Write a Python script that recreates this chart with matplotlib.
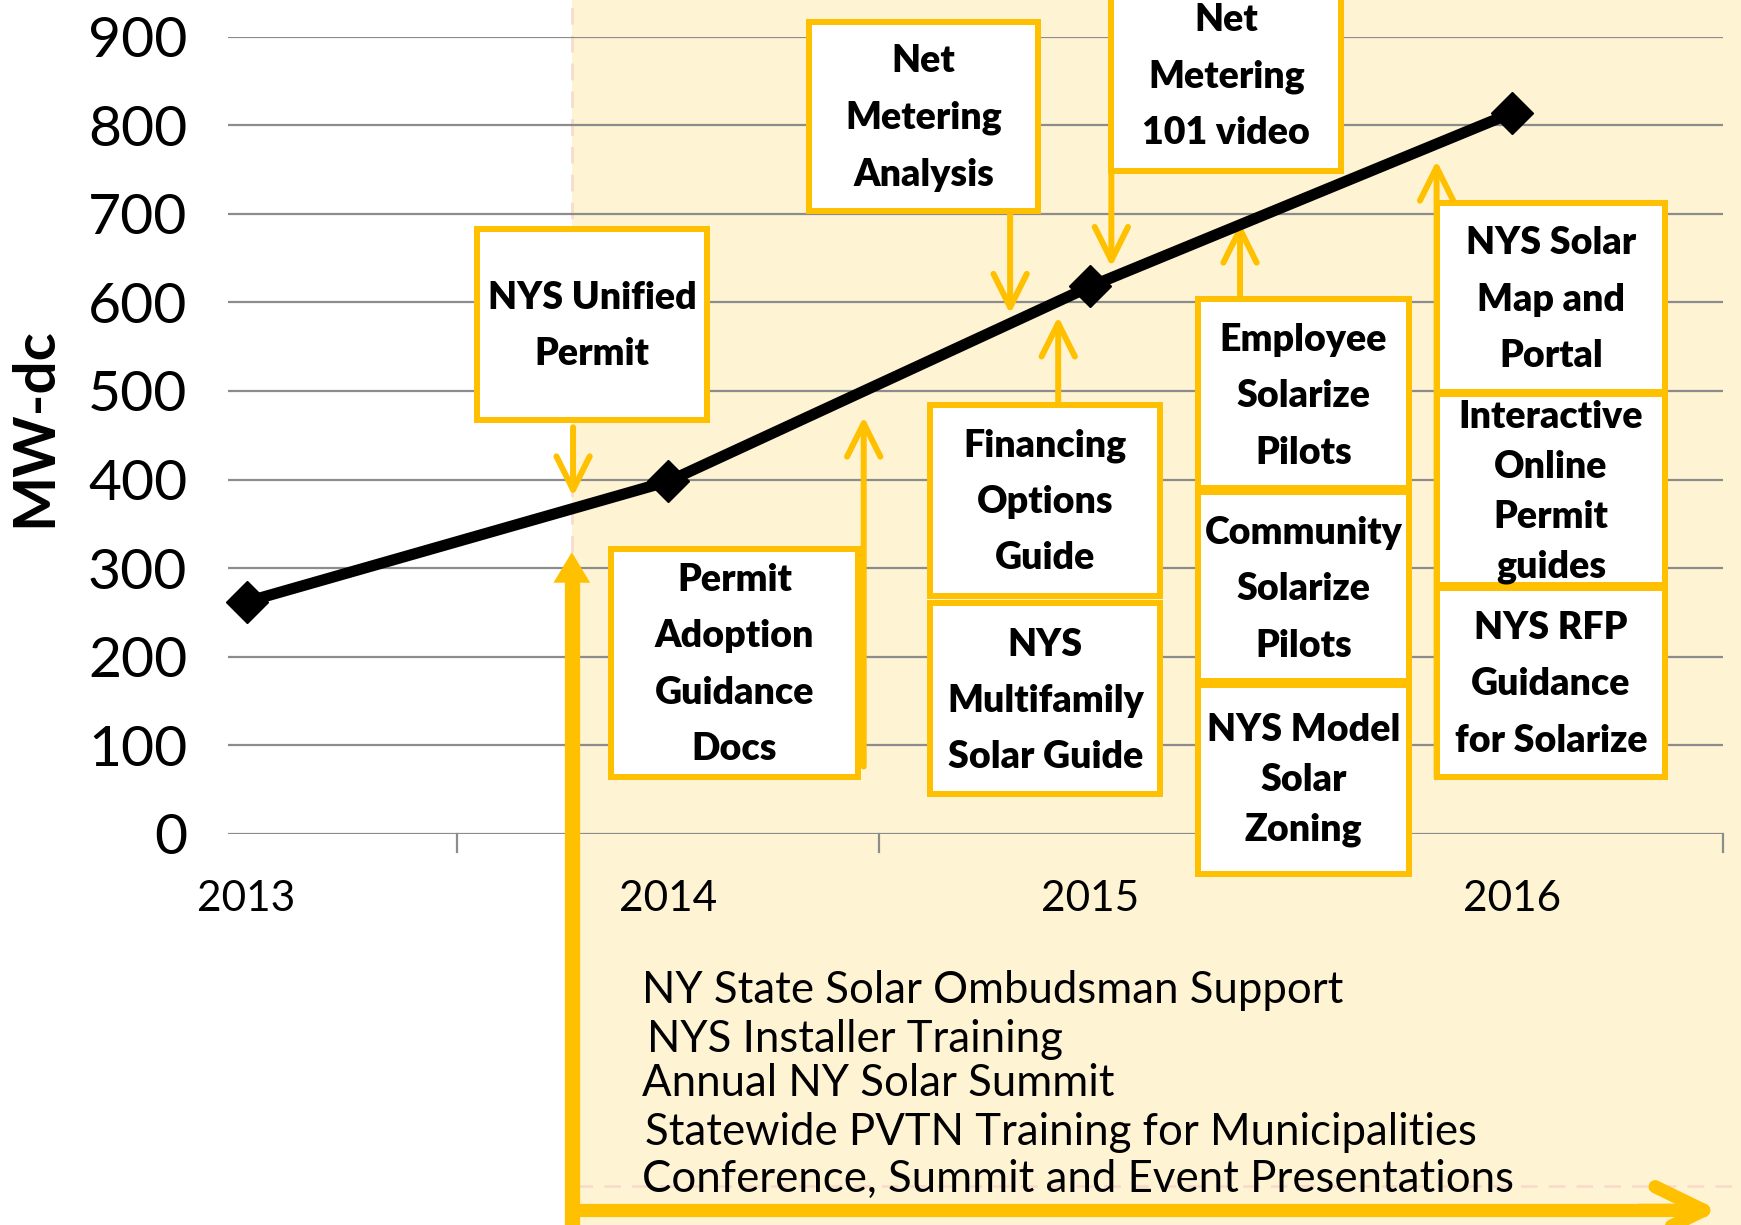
import matplotlib
matplotlib.use("Agg")
import matplotlib.pyplot as plt
from matplotlib.patches import Rectangle

# data
years = ['2013', '2014', '2015', '2016']
mw_dc = [262, 398, 618, 814]
y_ticks = [0, 100, 200, 300, 400, 500, 600, 700, 800, 900]

# milestone boxes: (label, x0, x1, y0, y1) in category / MW units
boxes = [
    ("NYS Unified\nPermit", 0.547, 1.092, 467, 683),
    ("Permit\nAdoption\nGuidance\nDocs", 0.863, 1.450, 64, 322),
    ("Net\nMetering\nAnalysis", 1.334, 1.876, 703, 917),
    ("Financing\nOptions\nGuide", 1.621, 2.166, 268, 484),
    ("NYS\nMultifamily\nSolar Guide", 1.621, 2.166, 45, 261),
    ("Net\nMetering\n101 video", 2.050, 2.595, 748, 985),
    ("Employee\nSolarize\nPilots", 2.255, 2.755, 390, 604),
    ("Community\nSolarize\nPilots", 2.255, 2.755, 173, 386),
    ("NYS Model\nSolar\nZoning", 2.255, 2.755, -45, 168),
    ("NYS Solar\nMap and\nPortal", 2.821, 3.363, 499, 712),
    ("Interactive\nOnline\nPermit\nguides", 2.821, 3.363, 281, 496),
    ("NYS RFP\nGuidance\nfor Solarize", 2.821, 3.363, 64, 277),
]
# text centre y and line spacing for each box
box_text_y = [573, 191, 808, 375, 150, 855, 494, 276, 61, 603, 386, 169]
box_spacing = [1.8, 1.8, 1.8, 1.8, 1.8, 1.8, 1.8, 1.8, 1.56, 1.8, 1.56, 1.8]

# pointer arrows: (x, y_start, y_end)
pointers = [
    (0.774, 459, 381),
    (1.463, 76, 471),
    (1.810, 703, 587),
    (1.924, 484, 584),
    (2.050, 941, 640),
    (2.355, 604, 690),
    (2.821, 64, 760),
]

ongoing = [
    "NY State Solar Ombudsman Support",
    "NYS Installer Training",
    "Annual NY Solar Summit",
    "Statewide PVTN Training for Municipalities",
    "Conference, Summit and Event Presentations",
]
ongoing_y = [-177, -232, -282, -337, -390]
ongoing_x = [0.937, 0.950, 0.937, 0.945, 0.937]

gold = '#FFC000'

fig = plt.figure(figsize=(17.41, 12.25), dpi=100)
ax = fig.add_axes([0.1307, 0.3193, 0.859, 0.6508])
ax.set_xlim(-0.045, 3.5)
ax.set_ylim(0, 900)

# shaded program period
ax.add_patch(Rectangle((0.771, -600), 3.0, 1600, facecolor='#FEF3D3',
                       edgecolor='none', zorder=0, clip_on=False))
ax.plot([0.771, 0.771], [318, 980], color='#F8DCCB', lw=2, ls=(0, (6, 4)),
        zorder=0.5, clip_on=False)
ax.plot([0.78, 3.6], [-398, -398], color='#F8DCCB', lw=2, ls=(0, (6, 4)),
        zorder=0.5, clip_on=False)

for v in y_ticks:
    ax.plot([-0.045, 3.5], [v, v], color='#8C8C8C', lw=1.6, zorder=1)
for b in [0.5, 1.5, 2.5, 3.5]:
    ax.plot([b, b], [0, -20], color='#8C8C8C', lw=1.6, zorder=1, clip_on=False)

for s in ax.spines.values():
    s.set_visible(False)
ax.set_yticks(y_ticks)
ax.set_yticklabels([str(v) for v in y_ticks], fontsize=41, family='Lato')
ax.set_xticks(range(len(years)))
ax.set_xticklabels(years, fontsize=30.5, family='Lato')
ax.tick_params(axis='both', length=0)
ax.tick_params(axis='y', pad=29)
ax.tick_params(axis='x', pad=33)
ax.set_ylabel('MW-dc', fontsize=42, fontweight='bold', family='Lato')
ax.yaxis.set_label_coords(-0.111, 0.51)

# long-running programme arrow
ax.plot([0.771, 0.771], [-470, 285], color=gold, lw=11,
        solid_capstyle='butt', zorder=3, clip_on=False)
ax.annotate('', xy=(0.771, 318), xytext=(0.771, 270),
            arrowprops=dict(arrowstyle='simple,head_length=1.0,head_width=1.2,tail_width=0.3',
                            mutation_scale=22, facecolor=gold, edgecolor='none',
                            lw=0, shrinkA=0, shrinkB=0),
            annotation_clip=False, zorder=3)
ax.plot([0.758, 3.46], [-425, -425], color=gold, lw=9.5,
        solid_capstyle='butt', zorder=3, clip_on=False)
ax.annotate('', xy=(3.49, -425), xytext=(3.3, -425),
            arrowprops=dict(arrowstyle='->,head_length=3.5,head_width=1.7',
                            color=gold, lw=9.5, shrinkA=0, shrinkB=0),
            annotation_clip=False, zorder=3)

for (label, x0, x1, y0, y1), ty, sp in zip(boxes, box_text_y, box_spacing):
    ax.add_patch(Rectangle((x0, y0), x1 - x0, y1 - y0, facecolor='white',
                           edgecolor=gold, lw=4.3, zorder=4, clip_on=False))
    ax.text((x0 + x1) / 2, ty, label, ha='center', va='center', fontsize=27,
            fontweight='heavy', family='Lato', linespacing=sp, zorder=5,
            clip_on=False)

for x, ys, ye in pointers:
    ax.annotate('', xy=(x, ye), xytext=(x, ys),
                arrowprops=dict(arrowstyle='->,head_length=2.4,head_width=1.2',
                                color=gold, lw=4.3, shrinkA=0, shrinkB=0),
                annotation_clip=False, zorder=3)

ax.plot(range(len(years)), mw_dc, color='black', lw=8, marker='D',
        markersize=21, zorder=6, clip_on=False)

for t, x, y in zip(ongoing, ongoing_x, ongoing_y):
    ax.text(x, y, t, ha='left', va='center', fontsize=31.5,
            family='Lato', zorder=5, clip_on=False)

fig.savefig('out.png', dpi=100)
